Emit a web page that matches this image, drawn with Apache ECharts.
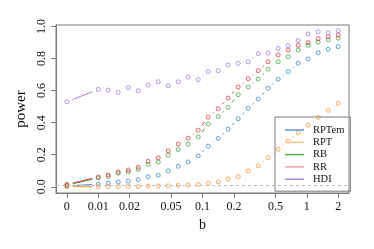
<!DOCTYPE html>
<html>
<head>
<meta charset="utf-8">
<script src="https://cdn.jsdelivr.net/npm/echarts@6/dist/echarts.min.js"></script>
<style>html,body{margin:0;padding:0;background:#fff;}#c{width:374px;height:249px;}</style>
</head>
<body>
<div id="c"></div>
<script>
// b values: 0 followed by 25 geometric steps from 0.01 to 2
var bValues = [0, 0.01, 0.01247, 0.01555, 0.01939, 0.02418, 0.03016, 0.03761, 0.0469, 0.05848, 0.07293, 0.09095, 0.1134, 0.1414, 0.1764, 0.22, 0.2743, 0.3421, 0.4266, 0.532, 0.6634, 0.8273, 1.032, 1.287, 1.604, 2];
var seriesNames = ['RPTem', 'RPT', 'RB', 'RR', 'HDI'];
var RPTem = [0.005, 0.016, 0.022, 0.03, 0.035, 0.045, 0.062, 0.072, 0.099, 0.128, 0.155, 0.193, 0.253, 0.301, 0.359, 0.424, 0.489, 0.547, 0.614, 0.671, 0.718, 0.77, 0.797, 0.836, 0.857, 0.874];
var RPT   = [0.0, 0.001, 0.001, 0.001, 0.002, 0.002, 0.004, 0.005, 0.006, 0.009, 0.012, 0.015, 0.022, 0.03, 0.049, 0.063, 0.098, 0.13, 0.182, 0.234, 0.285, 0.337, 0.384, 0.432, 0.477, 0.52];
var RB    = [0.01, 0.055, 0.065, 0.085, 0.093, 0.108, 0.14, 0.153, 0.197, 0.232, 0.266, 0.311, 0.392, 0.438, 0.495, 0.574, 0.622, 0.672, 0.733, 0.78, 0.811, 0.853, 0.882, 0.902, 0.916, 0.926];
var RR    = [0.015, 0.061, 0.074, 0.093, 0.105, 0.122, 0.159, 0.181, 0.224, 0.266, 0.303, 0.353, 0.434, 0.487, 0.553, 0.622, 0.674, 0.724, 0.78, 0.822, 0.853, 0.882, 0.899, 0.924, 0.936, 0.947];
var HDI   = [0.53, 0.607, 0.603, 0.589, 0.618, 0.599, 0.634, 0.655, 0.63, 0.655, 0.684, 0.668, 0.718, 0.724, 0.759, 0.77, 0.779, 0.83, 0.834, 0.863, 0.879, 0.912, 0.953, 0.967, 0.961, 0.973];
var xTickValues = [0, 0.01, 0.02, 0.05, 0.1, 0.2, 0.5, 1, 2];
var xTickLabels = ['0', '0.01', '0.02', '0.05', '0.1', '0.2', '0.5', '1', '2'];
var yTickValues = [0, 0.2, 0.4, 0.6, 0.8, 1.0];
var hLineValue = 0.01;

var ZERO_AT = 0.005; // b = 0 is shown where b = 0.005 would be on the log scale
function pos(b) { return Math.log10(b > 0 ? b : ZERO_AT); }

var pointColors = ['#3F87CF', '#FF9433', '#43A843', '#E0393E', '#A47BD6'];
var legendColors = ['#5B9BD5', '#FDC28A', '#4DAF4A', '#F0A3A6', '#A98AD8'];
var allValues = [RPTem, RPT, RB, RR, HDI];
var GAP = 6;
var FONT = 'Liberation Serif';

var xMinData = pos(0), xMaxData = pos(2);
var xExt = 0.04 * (xMaxData - xMinData);
var yExt = 0.04 * 0.97;

function segRender(color) {
  return function (params, api) {
    var p1 = api.coord([api.value(0), api.value(1)]);
    var p2 = api.coord([api.value(2), api.value(3)]);
    var dx = p2[0] - p1[0], dy = p2[1] - p1[1];
    var L = Math.sqrt(dx * dx + dy * dy);
    if (L <= 2 * GAP + 0.5) return null;
    var ux = dx / L, uy = dy / L;
    return {
      type: 'line',
      shape: { x1: p1[0] + ux * GAP, y1: p1[1] + uy * GAP, x2: p2[0] - ux * GAP, y2: p2[1] - uy * GAP },
      style: { stroke: color, lineWidth: 1 }
    };
  };
}

var series = [];
seriesNames.forEach(function (name, si) {
  var vals = allValues[si];
  var pts = bValues.map(function (b, i) { return [pos(b), vals[i]]; });
  var segs = [];
  for (var i = 0; i < pts.length - 1; i++) segs.push([pts[i][0], pts[i][1], pts[i + 1][0], pts[i + 1][1]]);
  series.push({
    type: 'custom', name: name, renderItem: segRender(pointColors[si]),
    dimensions: ['x1', 'y1', 'x2', 'y2'], encode: { x: [0, 2], y: [1, 3] },
    data: segs, silent: true, clip: true
  });
  var s = {
    type: 'scatter', name: name, data: pts, symbol: 'circle', symbolSize: 4,
    itemStyle: { color: 'rgba(0,0,0,0)', borderColor: pointColors[si], borderWidth: 1 },
    silent: true
  };
  if (si === 0) {
    s.markLine = {
      silent: true, symbol: 'none', label: { show: false },
      lineStyle: { type: [3, 3], color: '#BDBDBD', width: 1 },
      data: [{ yAxis: hLineValue }]
    };
  }
  series.push(s);
});

var chart = echarts.init(document.getElementById('c'), null, { renderer: 'canvas' });
chart.setOption({
  animation: false,
  backgroundColor: '#fff',
  grid: { left: 56, top: 25, width: 293, height: 168, show: true, borderColor: '#7A7A7A', borderWidth: 1, backgroundColor: 'transparent' },
  xAxis: {
    type: 'value', min: xMinData - xExt, max: xMaxData + xExt,
    name: 'b', nameLocation: 'middle', nameGap: 24,
    nameTextStyle: { fontFamily: FONT, fontSize: 14, color: '#111' },
    axisLine: { show: true, onZero: false, lineStyle: { color: '#7A7A7A' } },
    axisTick: { show: true, length: 5, lineStyle: { color: '#7A7A7A' }, customValues: xTickValues.map(pos) },
    axisLabel: {
      fontFamily: FONT, fontSize: 12, color: '#111', margin: 8,
      customValues: xTickValues.map(pos),
      formatter: function (v) {
        for (var i = 0; i < xTickValues.length; i++) if (Math.abs(pos(xTickValues[i]) - v) < 1e-6) return xTickLabels[i];
        return '';
      }
    },
    splitLine: { show: false }
  },
  yAxis: {
    type: 'value', min: -yExt, max: 0.97 + yExt,
    name: 'power', nameLocation: 'middle', nameGap: 26, nameRotate: 90,
    nameTextStyle: { fontFamily: FONT, fontSize: 15, color: '#111' },
    axisLine: { show: true, onZero: false, lineStyle: { color: '#7A7A7A' } },
    axisTick: { show: true, length: 5, lineStyle: { color: '#7A7A7A' }, customValues: yTickValues },
    axisLabel: {
      fontFamily: FONT, fontSize: 12, color: '#111', rotate: 90, margin: 8,
      customValues: yTickValues,
      formatter: function (v) { return v.toFixed(1); }
    },
    splitLine: { show: false }
  },
  legend: {
    orient: 'vertical', left: 275, top: 117,
    padding: [7, 6, 6, 10], itemGap: 0.3, itemWidth: 19, itemHeight: 1.5,
    icon: 'rect', borderColor: '#7A7A7A', borderWidth: 1, backgroundColor: 'transparent',
    textStyle: { fontFamily: FONT, fontSize: 10.5, color: '#111', lineHeight: 12, padding: [0, 0, 0, 4] },
    selectedMode: false,
    data: seriesNames.map(function (n, i) { return { name: n, itemStyle: { color: legendColors[i], borderWidth: 0 } }; })
  },
  series: series
});
</script>
</body>
</html>
